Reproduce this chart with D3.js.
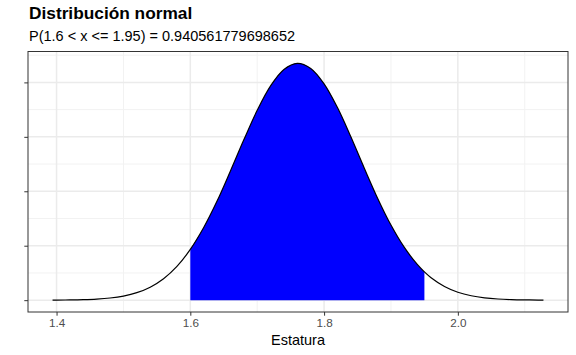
<!DOCTYPE html>
<html>
<head>
<meta charset="utf-8">
<script src="https://cdn.jsdelivr.net/npm/d3@7"></script>
<style>
  body { margin: 0; background: #fff; }
  text { font-family: "Liberation Sans", Arial, sans-serif; }
</style>
</head>
<body>
<div id="chart"></div>
<script>
// density curve (x = estatura, y = density)
const xs = [1.394, 1.40, 1.42, 1.44, 1.46, 1.48, 1.50, 1.52, 1.54, 1.56, 1.58, 1.60, 1.62, 1.64, 1.66, 1.68, 1.70,
  1.72, 1.74, 1.76, 1.78, 1.80, 1.82, 1.84, 1.86, 1.88, 1.90, 1.92, 1.94, 1.95, 1.96, 1.98, 2.00, 2.02, 2.04,
  2.06, 2.08, 2.10, 2.12, 2.128]
const ys = [0.0015, 0.0019, 0.0043, 0.0095, 0.0199, 0.0398, 0.0757, 0.1375, 0.2385, 0.394, 0.620, 0.932, 1.334, 1.820,
  2.373, 2.945, 3.487, 3.936, 4.237, 4.350, 4.257, 3.974, 3.537, 3.001, 2.428, 1.874, 1.379, 0.968, 0.647, 0.520,
  0.413, 0.251, 0.1456, 0.0806, 0.0425, 0.0214, 0.0102, 0.0047, 0.0020, 0.0015]
const lower = 1.6, upper = 1.95
const xTicks = [1.4, 1.6, 1.8, 2.0]
const xMinor = [1.5, 1.7, 1.9, 2.1]
const yTicks = [0, 1, 2, 3, 4]
const yMinor = [0.5, 1.5, 2.5, 3.5, 4.5]

const W = 576, H = 355
const margin = { top: 51.5, right: 8, bottom: 43, left: 28 }
const pw = W - margin.left - margin.right, ph = H - margin.top - margin.bottom

const data = xs.map((x, i) => ({ x: x, y: ys[i] }))

// ggplot style 5% expansion
const xExt = d3.extent(xs), xPad = (xExt[1] - xExt[0]) * 0.05
const yMax = d3.max(ys), yPad = yMax * 0.05
const x = d3.scaleLinear().domain([xExt[0] - xPad, xExt[1] + xPad]).range([0, pw])
const y = d3.scaleLinear().domain([-yPad, yMax + yPad]).range([ph, 0])

const svg = d3.select("#chart").append("svg")
  .attr("width", W).attr("height", H)

svg.append("text")
  .attr("x", 29).attr("y", 18.5)
  .attr("font-size", "17.3px").attr("font-weight", "bold")
  .text("Distribución normal")
svg.append("text")
  .attr("x", 29).attr("y", 40.7)
  .attr("font-size", "14.5px")
  .text("P(1.6 < x <= 1.95) = 0.940561779698652")

const g = svg.append("g").attr("transform", `translate(${margin.left},${margin.top})`)

// grid
g.selectAll(".xminor").data(xMinor).enter().append("line")
  .attr("x1", d => x(d)).attr("x2", d => x(d)).attr("y1", 0).attr("y2", ph)
  .attr("stroke", "#f2f2f2").attr("stroke-width", 1)
g.selectAll(".yminor").data(yMinor).enter().append("line")
  .attr("y1", d => y(d)).attr("y2", d => y(d)).attr("x1", 0).attr("x2", pw)
  .attr("stroke", "#f2f2f2").attr("stroke-width", 1)
g.selectAll(".xmajor").data(xTicks).enter().append("line")
  .attr("x1", d => x(d)).attr("x2", d => x(d)).attr("y1", 0).attr("y2", ph)
  .attr("stroke", "#ebebeb").attr("stroke-width", 1.5)
g.selectAll(".ymajor").data(yTicks).enter().append("line")
  .attr("y1", d => y(d)).attr("y2", d => y(d)).attr("x1", 0).attr("x2", pw)
  .attr("stroke", "#ebebeb").attr("stroke-width", 1.5)

// shaded probability
const area = d3.area()
  .x(d => x(d.x)).y0(y(0)).y1(d => y(d.y))
  .curve(d3.curveCatmullRom)
g.append("path")
  .datum(data.filter(d => d.x >= lower && d.x <= upper))
  .attr("d", area)
  .attr("fill", "#0000ff")

const line = d3.line()
  .x(d => x(d.x)).y(d => y(d.y))
  .curve(d3.curveCatmullRom)
g.append("path")
  .datum(data)
  .attr("d", line)
  .attr("fill", "none")
  .attr("stroke", "#000")
  .attr("stroke-width", 1.2)

// panel border
g.append("rect")
  .attr("width", pw).attr("height", ph)
  .attr("fill", "none").attr("stroke", "#333").attr("stroke-width", 1)

// axes
const xAxis = g.append("g").attr("transform", `translate(0,${ph})`)
  .call(d3.axisBottom(x).tickValues(xTicks).tickFormat(d3.format(".1f")).tickSizeOuter(0).tickSize(3.7).tickPadding(3))
xAxis.select(".domain").remove()
xAxis.selectAll("line").attr("stroke", "#333")
xAxis.selectAll("text").attr("fill", "#4d4d4d").attr("font-size", "11.7px")
  .attr("font-family", "Liberation Sans, Arial, sans-serif")

const yAxis = g.append("g")
  .call(d3.axisLeft(y).tickValues(yTicks).tickFormat("").tickSizeOuter(0).tickSize(3.7))
yAxis.select(".domain").remove()
yAxis.selectAll("line").attr("stroke", "#333")

svg.append("text")
  .attr("x", margin.left + pw / 2).attr("y", 344.5)
  .attr("text-anchor", "middle")
  .attr("font-size", "14.5px")
  .text("Estatura")
</script>
</body>
</html>
